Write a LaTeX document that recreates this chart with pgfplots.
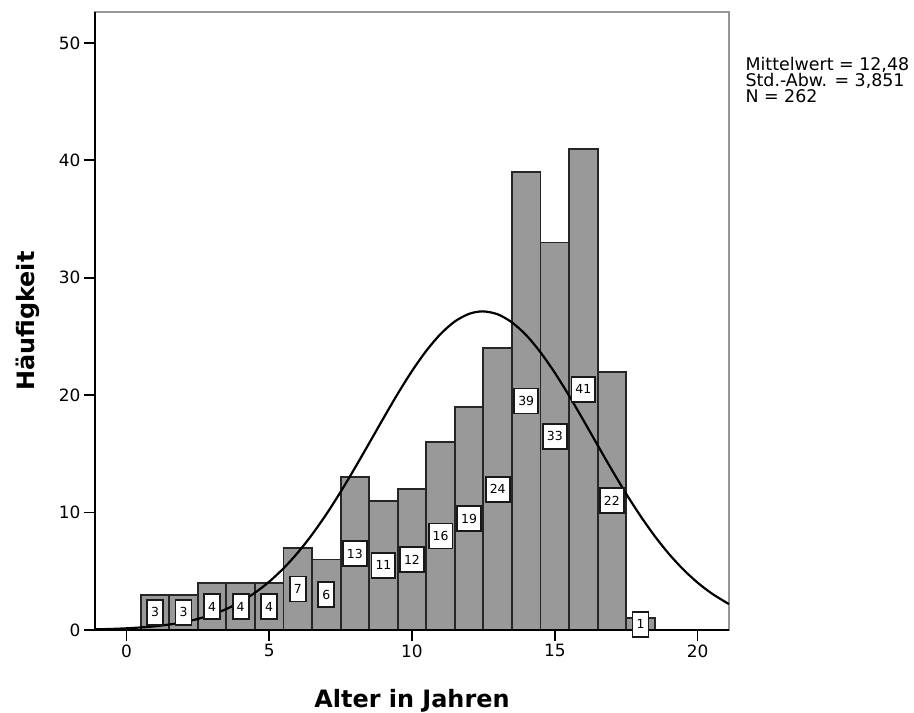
\documentclass[border=0pt]{standalone}
\usepackage{fontspec}
\setmainfont{DejaVu Sans}
\usepackage{pgfplots}
\usepackage{pgfplotstable}
\pgfplotsset{compat=1.18}
\definecolor{barfill}{RGB}{153,153,153}
\definecolor{framegray}{RGB}{150,150,150}

\pgfplotstableread{
x y
1 3
2 3
3 4
4 4
5 4
6 7
7 6
8 13
9 11
10 12
11 16
12 19
13 24
14 39
15 33
16 41
17 22
18 1
}\bars

\begin{document}
\begin{tikzpicture}
\begin{axis}[
  scale only axis, width=634bp, height=618bp,
  xmin=-1.1, xmax=21.1, ymin=0, ymax=52.64,
  xtick={0,5,10,15,20}, ytick={0,10,20,30,40,50},
  tick align=outside, xtick pos=bottom, ytick pos=left,
  major tick length=11bp,
  tick style={black, line width=1.8bp},
  axis line style={framegray, line width=2.6bp},
  /pgf/number format/assume math mode=true,
  tick label style={font=\fontsize{17}{17}\selectfont},
  xlabel={Alter in Jahren}, ylabel={Häufigkeit},
  label style={font=\bfseries\fontsize{24}{24}\selectfont},
  xlabel style={at={(rel axis cs:0.5,-0.1262)}, anchor=base},
  ylabel style={at={(rel axis cs:-0.1057,0.5)}, anchor=center},
  clip=false,
]
\addplot[ybar, bar width=1, bar shift=0, fill=barfill, draw=black!85, line width=1.8bp] table[x=x, y=y] {\bars};
\addplot[draw=none, mark=none, nodes near coords, point meta=explicit,
  every node near coord/.append style={anchor=center, draw=black!90, fill=white, line width=1.8bp,
    font=\fontsize{12.5}{12.5}\selectfont, minimum height=25bp, inner xsep=4bp, inner ysep=0pt}]
  table[x=x, y expr=\thisrow{y}/2, meta=y] {\bars};
\addplot[black, line width=2.2bp, smooth, mark=none] coordinates {
(-1.1,0.053) (-0.5,0.0927) (0,0.1422) (0.5,0.2149) (1,0.3192) (1.5,0.4660) (2,0.6690) (2.5,0.9442)
(3,1.311) (3.5,1.790) (4,2.403) (4.5,3.171) (5,4.114) (5.5,5.251) (6,6.587) (6.5,8.128)
(7,9.861) (7.5,11.76) (8,13.80) (8.5,15.91) (9,18.04) (9.5,20.12) (10,22.06) (10.5,23.78)
(11,25.21) (11.5,26.28) (12,26.93) (12.48,27.14) (13,26.89) (13.5,26.20) (14,25.11) (14.5,23.65)
(15,21.91) (15.5,19.96) (16,17.87) (16.5,15.74) (17,13.63) (17.5,11.60) (18,9.716) (18.5,7.998)
(19,6.473) (19.5,5.154) (20,4.033) (20.5,3.105) (21,2.349) (21.1,2.21)
};
\draw[black, line width=2bp] (rel axis cs:0,1) -- (rel axis cs:0,0) -- (rel axis cs:1,0);
\node[anchor=base west, xshift=13bp, font=\fontsize{17.5}{17.5}\selectfont] at (rel axis cs:1,0.905) {Mittelwert = 12,48};
\node[anchor=base west, xshift=13bp, font=\fontsize{17.5}{17.5}\selectfont] at (rel axis cs:1,0.879) {Std.-Abw. = 3,851};
\node[anchor=base west, xshift=13bp, font=\fontsize{17.5}{17.5}\selectfont] at (rel axis cs:1,0.853) {N = 262};
\end{axis}
\pgfresetboundingbox
\path (-95bp,-83bp) rectangle (819bp,630bp);
\end{tikzpicture}
\end{document}
